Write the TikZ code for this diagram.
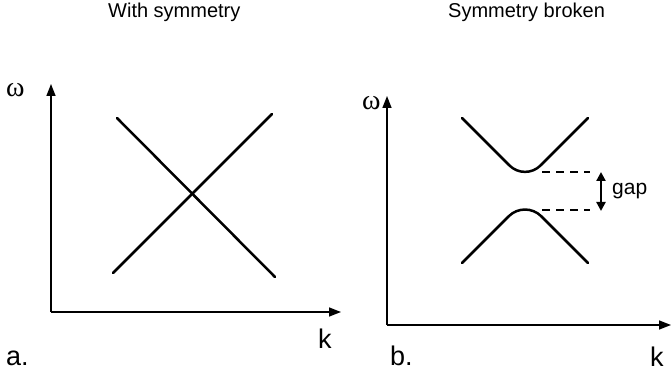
\documentclass[tikz,border=0pt]{standalone}
\usepackage{fontspec}
\setmainfont{Liberation Sans}
\newfontfamily\serifw{Liberation Serif}
\usetikzlibrary{arrows.meta}
\begin{document}
\begin{tikzpicture}[x=1pt,y=-1pt,
  axis/.style={line width=1.5pt,-{Triangle[length=12pt,width=9pt]}},
  band/.style={line width=2.5pt,line cap=round},
  gapline/.style={line width=2.3pt,dash pattern=on 8pt off 6pt},
  gaparrow/.style={line width=2.3pt,{Triangle[length=9pt,width=9pt]}-{Triangle[length=9pt,width=9pt]}},
  title/.style={font=\fontsize{20}{24}\selectfont,anchor=base west,inner sep=0pt},
  lbl/.style={font=\fontsize{27}{32}\selectfont,anchor=base west,inner sep=0pt},
  omg/.style={font=\serifw\fontsize{28}{32}\selectfont,anchor=base west,inner sep=0pt}]
\useasboundingbox (0,0) rectangle (671,371);
% titles
\node[title] (ta) at (108,18) {With symmetry};
\node[title] (tb) at (448,18) {Symmetry broken};
% panel a
\coordinate (oa) at (51,312);
\coordinate (ya) at (51,84);
\coordinate (xa) at (341,312);
\draw[axis] (oa) -- (ya);
\draw[axis] (oa) -- (xa);
\node[omg] (wa) at (6,97) {ω};
\node[lbl] (ka) at (318,348) {k};
\node[lbl] (la) at (6,365) {a.};
\draw[band] (117,118) -- (275,277);
\draw[band] (113,273) -- (272,114);
% panel b
\coordinate (ob) at (387,325);
\coordinate (yb) at (387,96);
\coordinate (xb) at (671,325);
\draw[axis] (ob) -- (yb);
\draw[axis] (ob) -- (xb);
\node[omg] (wb) at (362,110) {ω};
\node[lbl] (kb) at (650,366) {k};
\node[lbl] (lb) at (390,365) {b.};
\draw[band,rounded corners=22pt] (462,118) -- (525,181) -- (588,118);
\draw[band,rounded corners=23pt] (462,263) -- (525,200) -- (588,263);
\coordinate (u1) at (542,172);
\coordinate (u2) at (590,172);
\coordinate (d1) at (542,210);
\coordinate (d2) at (590,210);
\draw[gapline] (u1) -- (u2);
\draw[gapline] (d1) -- (d2);
\coordinate (ga) at (601,172);
\coordinate (gb) at (601,211);
\draw[gaparrow] (ga) -- (gb);
\node[font=\fontsize{21}{24}\selectfont,anchor=base west,inner sep=0pt] (gt) at (612,195) {gap};
\end{tikzpicture}
\end{document}
